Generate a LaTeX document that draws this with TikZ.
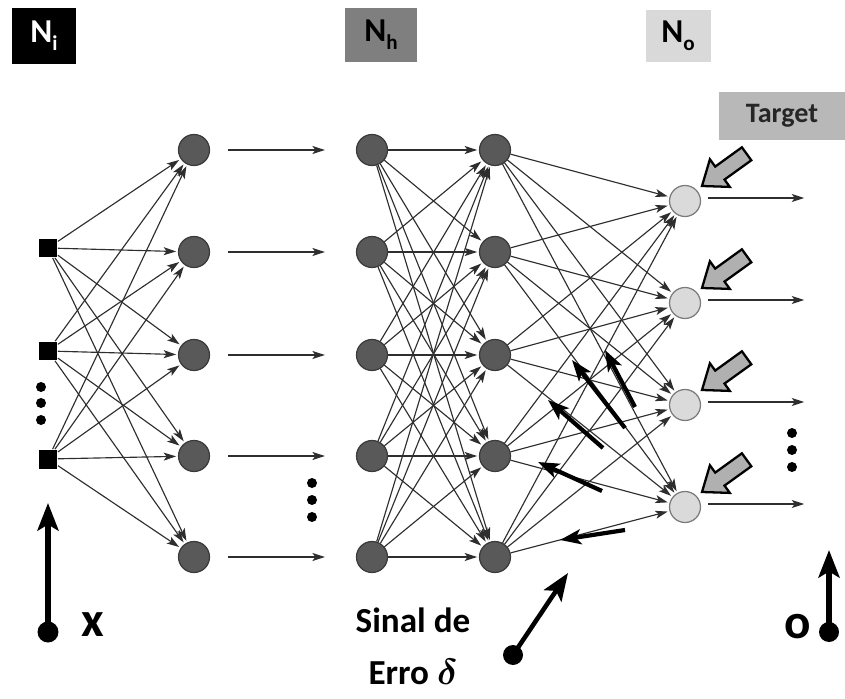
\documentclass[tikz,border=0pt]{standalone}
\usepackage{fontspec}
\setmainfont{Carlito}
\usetikzlibrary{arrows.meta}

\definecolor{hidgray}{HTML}{595959}
\definecolor{hidedge}{HTML}{3A3A3A}
\definecolor{outgray}{HTML}{DADADA}
\definecolor{outedge}{HTML}{7A7A7A}
\definecolor{wiregray}{HTML}{2E2E2E}
\definecolor{boxgray}{HTML}{7F7F7F}
\definecolor{boxlight}{HTML}{D9D9D9}
\definecolor{tgtgray}{HTML}{B8B8B8}
\definecolor{pushgray}{HTML}{B0B0B0}

\newcommand{\layerlbl}[2]{\bfseries #1\raisebox{-0.5ex}{\fontsize{12}{12}\selectfont #2}}

\begin{document}
\begin{tikzpicture}[x=0.02cm,y=-0.02cm,
		hid/.style={circle,fill=hidgray,draw=hidedge,line width=0.7pt,minimum size=0.62cm,inner sep=0pt},
		outp/.style={circle,fill=outgray,draw=outedge,line width=0.7pt,minimum size=0.62cm,inner sep=0pt},
		inp/.style={rectangle,fill=black,minimum size=0.38cm,inner sep=0pt},
		wire/.style={draw=wiregray,line width=0.65pt,shorten >=1pt,-{Stealth[length=0.25cm,width=0.16cm,inset=0.06cm]}},
		smalldot/.style={circle,fill=black,minimum size=0.2cm,inner sep=0pt},
		enddot/.style={circle,fill=black,minimum size=0.42cm,inner sep=0pt},
		errarrow/.style={line width=2.4pt,-{Stealth[length=0.42cm,width=0.3cm,inset=0.1cm]}},
		bigarrow/.style={line width=3pt,-{Stealth[length=0.55cm,width=0.42cm,inset=0.12cm]}},
		pusharrow/.style={fill=pushgray,draw=black,line width=1.3pt,line join=miter},
		layertag/.style={minimum width=1.3cm,minimum height=1.14cm,inner sep=0pt,font=\fontsize{19}{19}\selectfont},
		bigtxt/.style={font=\fontsize{20}{22}\selectfont\bfseries}]

	\useasboundingbox (0,0) rectangle (845,699);

	% layer tags
	\node[layertag,fill=black,text=white] (ni) at (44,36) {\layerlbl{N}{i}};
	\node[layertag,fill=boxgray,minimum width=1.46cm,minimum height=1.1cm] (nh) at (381,35) {\layerlbl{N}{h}};
	\node[layertag,fill=boxlight,minimum height=1.04cm] (no) at (678,36) {\layerlbl{N}{o}};
	\node[fill=tgtgray,text=black!85,minimum width=2.52cm,minimum height=0.96cm,font=\fontsize{16}{16}\selectfont\bfseries] (tgt) at (782,116) {Target};

	% neurons
	\foreach \y [count=\i] in {248,351,459}
		\node[inp] (x\i) at (48,\y) {};
	\foreach \y [count=\i] in {150,252,355,456,557} {
		\node[hid] (a\i) at (194,\y) {};
		\node[hid] (b\i) at (372,\y) {};
		\node[hid] (c\i) at (495,\y) {};
	}
	\foreach \y [count=\i] in {201,303,405,507}
		\node[outp] (o\i) at (685,\y) {};

	% connections
	\foreach \i in {1,2,3}
		\foreach \j in {1,...,5}
			\draw[wire] (x\i) -- (a\j);
	\foreach \j in {1,...,5}
		\draw[wire,shorten <=0.36cm,shorten >=0.62cm] (a\j) -- (b\j);
	\foreach \i in {1,...,5}
		\foreach \j in {1,...,5}
			\draw[wire] (b\i) -- (c\j);
	\foreach \i in {1,...,5}
		\foreach \j in {1,...,4}
			\draw[wire] (c\i) -- (o\j);
	\foreach \y [count=\j] in {198,300,402,504} {
		\coordinate (y\j) at (806,\y);
		\draw[wire,shorten <=0.14cm] (o\j.east |- y\j) -- (y\j);
	}

	% dots
	\foreach \y in {387,403,420}
		\node[smalldot] at (41,\y) {};
	\foreach \y in {483,500,517}
		\node[smalldot] at (312,\y) {};
	\foreach \y in {433,450,467}
		\node[smalldot] at (792,\y) {};

	% target pushes
	\foreach \j in {1,...,4} {
		\begin{scope}[shift={(o\j)}]
			\draw[pusharrow] (17,-15) -- (44.8,-14.1) -- (39.5,-21.4) -- (66.3,-40.7)
				-- (56.9,-53.7) -- (30.2,-34.4) -- (24.9,-41.7) -- cycle;
		\end{scope}
	}

	% back propagated error
	\foreach \sx/\sy/\ex/\ey [count=\k] in {635/407/605/350,625/428/572/360,603/448/548/400,602/491/538/462,625/530/560/540} {
		\coordinate (ds\k) at (\sx,\sy);
		\coordinate (de\k) at (\ex,\ey);
		\draw[errarrow] (ds\k) -- (de\k);
	}

	% input, output and error signal
	\node[enddot] (xdot) at (48,632) {};
	\coordinate (xtip) at (48,503);
	\draw[bigarrow] (xdot.center) -- (xtip);
	\node[font=\fontsize{28}{28}\selectfont\bfseries] (xlbl) at (93,625) {x};

	\node[enddot,minimum size=0.4cm] (odot) at (829,632) {};
	\coordinate (otip) at (829,550);
	\draw[bigarrow] (odot.center) -- (otip);
	\node[font=\fontsize{28}{28}\selectfont\bfseries] (olbl) at (798,627) {o};

	\node[enddot,minimum size=0.4cm] (edot) at (513,655) {};
	\coordinate (etip) at (568,573);
	\draw[bigarrow,line width=2.6pt] (edot.center) -- (etip);
	\node[bigtxt] (sinal) at (413,620) {Sinal de};
	\node[bigtxt] (erro) at (413,672) {Erro {\fontsize{22}{22}\selectfont\boldmath$\delta$}};
\end{tikzpicture}
\end{document}
